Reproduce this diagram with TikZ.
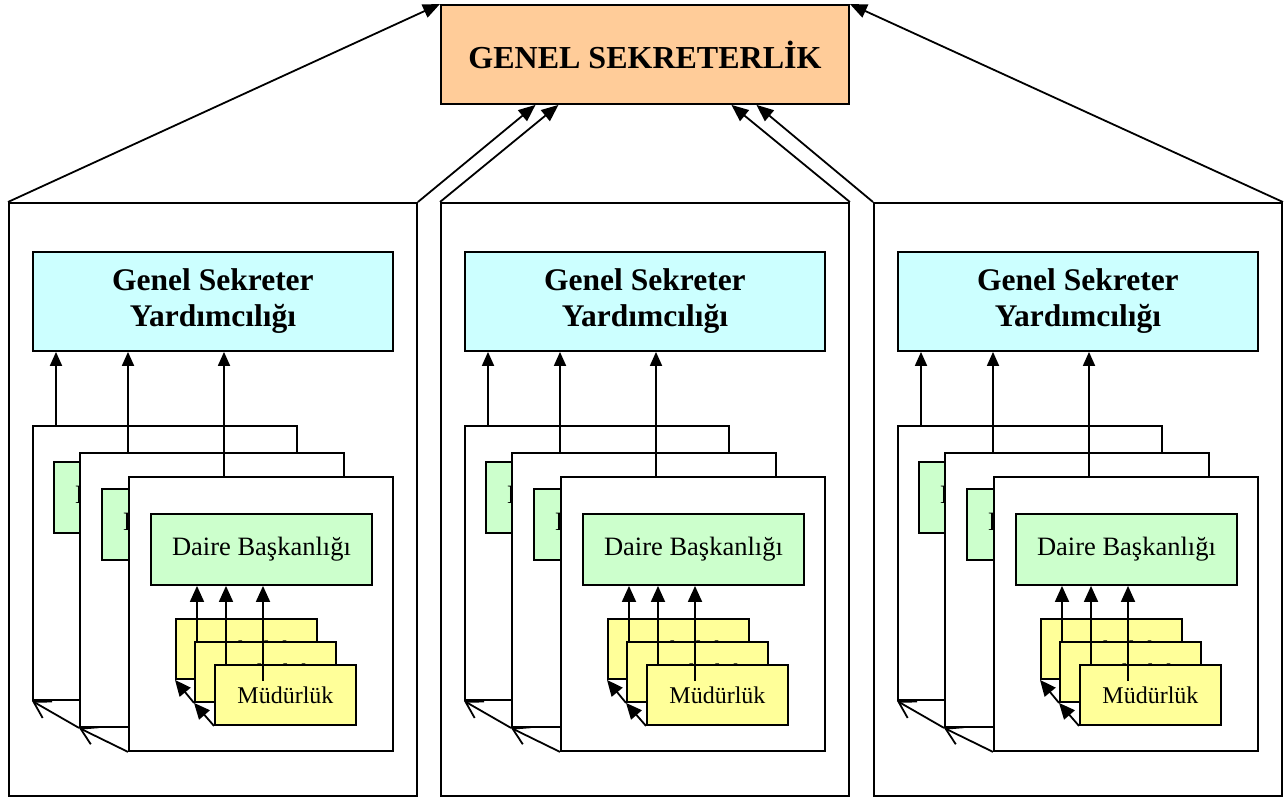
\documentclass[tikz,border=0pt]{standalone}
\usepackage{fontspec}
\setmainfont{Liberation Serif}
\usetikzlibrary{arrows.meta,calc}
\definecolor{peach}{HTML}{FFCC99}
\definecolor{paleblue}{HTML}{CCFFFF}
\definecolor{palegreen}{HTML}{CCFFCC}
\definecolor{paleyellow}{HTML}{FFFF99}
\tikzset{
  outlined/.style={draw=black, line width=1.9pt, anchor=north west, inner sep=0pt, align=center},
  headbox/.style={outlined, fill=peach, minimum width=408pt, minimum height=99pt,
    font=\fontsize{32}{38}\selectfont\bfseries},
  panelbox/.style={outlined, fill=white, minimum width=408pt, minimum height=593pt},
  deputybox/.style={outlined, fill=paleblue, minimum width=360pt, minimum height=99pt,
    font=\fontsize{31.5}{36}\selectfont\bfseries},
  cardbox/.style={outlined, fill=white, minimum width=264pt, minimum height=274pt},
  deptbox/.style={outlined, fill=palegreen, minimum width=221pt, minimum height=71pt,
    font=\fontsize{26.5}{30}\selectfont},
  unitbox/.style={outlined, fill=paleyellow, minimum width=141pt, minimum height=60pt,
    font=\fontsize{24}{28}\selectfont},
  link/.style={line width=1.8pt},
  toparrow/.style={link, -{Triangle[length=17pt,width=14pt]}},
  uparrow/.style={link, -{Triangle[length=14pt,width=12pt]}},
  smallarrow/.style={link, -{Triangle[length=16pt,width=14pt]}},
  backarrow/.style={link, -{Straight Barb[length=16pt,width=19pt]}},
}
% One deputy secretariat with its stacked departments and directorates
\newcommand\orgpanel[2]{%
\begin{scope}[xshift=#2pt]
  \node[panelbox] (#1p) at (8,202) {};
  \node[deputybox] (#1y) at (32,251) {Genel Sekreter\\Yardımcılığı};
  \node[cardbox] (#1c1) at (32,425) {};
  \node[deptbox] (#1d1) at (53,461) {Daire Başkanlığı};
  \node[cardbox] (#1c2) at (79,452) {};
  \node[deptbox] (#1d2) at (101,488) {Daire Başkanlığı};
  \node[cardbox] (#1c3) at (128,476) {};
  \coordinate (#1a1) at (56,425);
  \coordinate (#1a2) at (128,452);
  \coordinate (#1a3) at (224,476);
  \draw[uparrow] (#1a1) -- (#1a1 |- #1y.south);
  \draw[uparrow] (#1a2) -- (#1a2 |- #1y.south);
  \draw[uparrow] (#1a3) -- (#1a3 |- #1y.south);
  \draw[backarrow] (#1c3.south west) -- (#1c2.south west);
  \draw[backarrow] (#1c2.south west) -- (#1c1.south west);
  \node[deptbox] (#1d3) at (150,513) {Daire Başkanlığı};
  \node[unitbox] (#1m1) at (175,618) {Müdürlük};
  \coordinate (#1b1) at (197,660);
  \draw[smallarrow] (#1b1) -- (#1b1 |- #1d3.south);
  \node[unitbox] (#1m2) at (194,641) {Müdürlük};
  \coordinate (#1b2) at (226,680);
  \draw[smallarrow] (#1b2) -- (#1b2 |- #1d3.south);
  \node[unitbox] (#1m3) at (214,664) {Müdürlük};
  \coordinate (#1b3) at (263,681);
  \draw[smallarrow] (#1b3) -- (#1b3 |- #1d3.south);
  \draw[smallarrow] (#1m3.south west) -- (#1m2.south west);
  \draw[smallarrow] (#1m2.south west) -- (#1m1.south west);
\end{scope}}

\begin{document}
\begin{tikzpicture}[x=1pt, y=-1pt]
  \useasboundingbox (0,0) rectangle (1287,796);
  \fill[white] (0,0) rectangle (1287,796);
  \node[headbox] (gs) at (440,4) {GENEL SEKRETERLİK};
  \orgpanel{left}{0}
  \orgpanel{mid}{432}
  \orgpanel{right}{865}
  \draw[toparrow] (leftp.north west) -- (gs.north west);
  \draw[toparrow] (leftp.north east) -- ($(gs.south west)!0.233!(gs.south east)$);
  \draw[toparrow] (midp.north west) -- ($(gs.south west)!0.289!(gs.south east)$);
  \draw[toparrow] (midp.north east) -- ($(gs.south west)!0.711!(gs.south east)$);
  \draw[toparrow] (rightp.north west) -- ($(gs.south west)!0.772!(gs.south east)$);
  \draw[toparrow] (rightp.north east) -- (gs.north east);
\end{tikzpicture}
\end{document}
